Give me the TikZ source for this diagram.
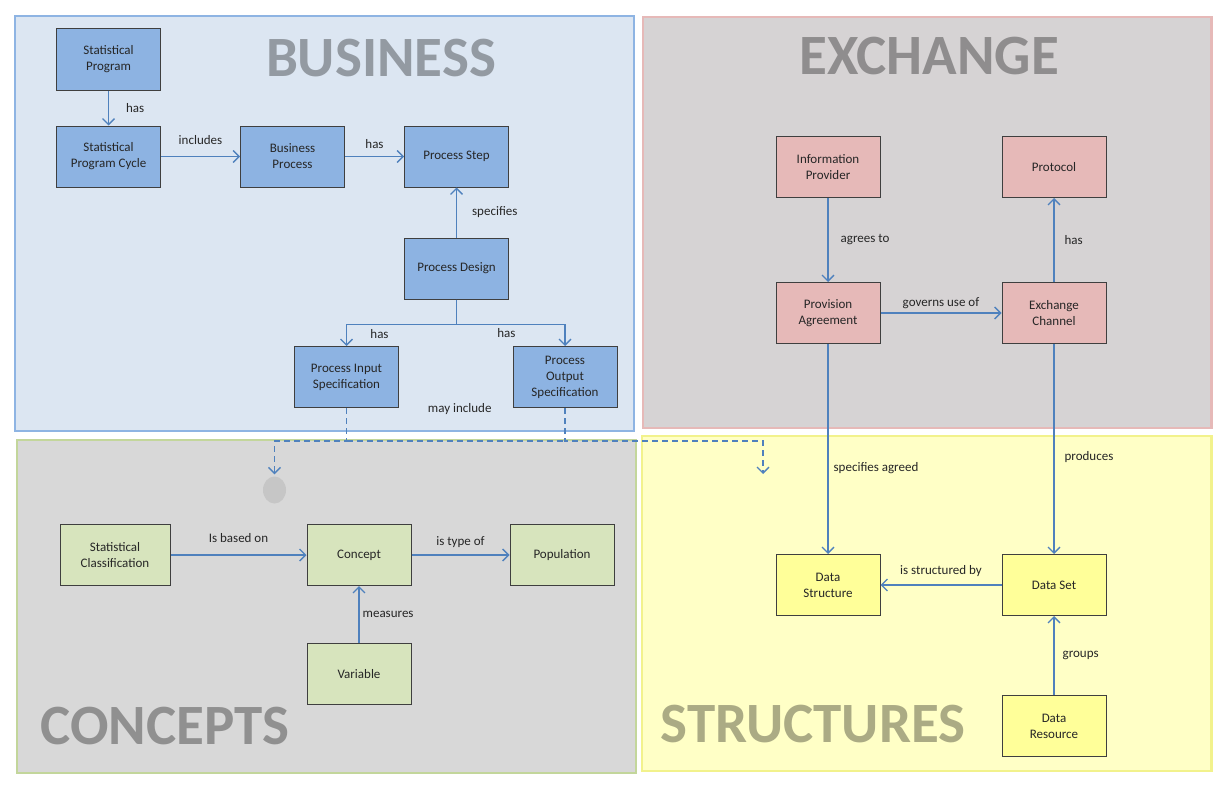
\documentclass[tikz,border=0pt]{standalone}
\usepackage{fontspec}
\setmainfont{Carlito}
\usepackage{tikz}
\usetikzlibrary{shapes,arrows.meta}
\usetikzlibrary{positioning}
\definecolor{clrBorders}{HTML}{3F3F3F}
\definecolor{clrText}{HTML}{262626}
\definecolor{clrArrow}{HTML}{4F81BD}
\definecolor{clrBusinessBg}{HTML}{DCE6F2}
\definecolor{clrBusinessLine}{HTML}{8EB4E3}
\definecolor{clrBusinessBox}{HTML}{8DB3E2}
\definecolor{clrExchangeBg}{HTML}{D6D3D4}
\definecolor{clrExchangeLine}{HTML}{E6B9B8}
\definecolor{clrExchangeBox}{HTML}{E6B9B8}
\definecolor{clrConceptsBg}{HTML}{D8D8D8}
\definecolor{clrConceptsLine}{HTML}{C3D69B}
\definecolor{clrConceptsBox}{HTML}{D7E4BD}
\definecolor{clrStructBg}{HTML}{FFFFC6}
\definecolor{clrStructLine}{HTML}{F2F28C}
\definecolor{clrStructBox}{HTML}{FFFF99}
\definecolor{clrDot}{HTML}{C6C6C6}
\tikzstyle{box_style0}=[draw=clrBorders, line width=1pt, minimum width=104pt, minimum height=61pt,
inner sep=2pt, align=center, text=clrText, font=\fontsize{13}{16}\selectfont]
\tikzstyle{business}=[box_style0, fill=clrBusinessBox]
\tikzstyle{exchange}=[box_style0, fill=clrExchangeBox]
\tikzstyle{concepts}=[box_style0, fill=clrConceptsBox]
\tikzstyle{structures}=[box_style0, fill=clrStructBox]
\tikzstyle{myarrow}=[->, >={Straight Barb[length=6pt,width=12pt]}, line width=1.3pt, draw=clrArrow]
\tikzstyle{mydashed}=[myarrow, dash pattern=on 6pt off 4pt]
\tikzstyle{lbl}=[inner sep=0pt, text=clrText, font=\fontsize{13}{16}\selectfont]
\tikzstyle{panel}=[line width=2.5pt]
\tikzstyle{paneltitle}=[inner sep=0pt, font=\fontsize{57}{60}\selectfont\bfseries, text=black, text opacity=0.33]

\begin{document}
\begin{tikzpicture}[x=1pt, y=-1pt]
		\useasboundingbox (0,0) rectangle (1214,800);

		% the four areas
		\draw[panel, draw=clrBusinessLine, fill=clrBusinessBg] (15,16) rectangle (634,431);
		\draw[panel, draw=clrExchangeLine, fill=clrExchangeBg] (643,17) rectangle (1211.5,428);
		\draw[panel, draw=clrConceptsLine, fill=clrConceptsBg] (17,440) rectangle (636,773);
		\draw[panel, draw=clrStructLine, fill=clrStructBg] (642,436) rectangle (1211.5,771);

		\node[paneltitle] (tBusiness) at (381,58) {BUSINESS};
		\node[paneltitle] (tExchange) at (929,56) {EXCHANGE};
		\node[paneltitle] (tConcepts) at (165,726) {CONCEPTS};
		\node[paneltitle] (tStructures) at (813,724) {STRUCTURES};

		% business
		\node[business] (SP) at (108.5,59.5) {Statistical\\Program};

		\node[business, below=35pt of SP] (SPC) {Statistical\\Program Cycle};
		\draw[myarrow] (SP) -- node[lbl, midway, right=17pt] {has} (SPC);

		\node[business, right=79pt of SPC] (BP) {Business\\Process};
		\draw[myarrow] (SPC) -- node[lbl, midway, above=11pt] {includes} (BP);

		\node[business, right=59pt of BP] (PS) {Process Step};
		\draw[myarrow] (BP) -- node[lbl, midway, above=7pt] {has} (PS);

		\node[business, below=50pt of PS] (PD) {Process Design};
		\draw[myarrow] (PD) -- node[lbl, midway, right=15pt] {specifies} (PS);

		\node[business] (PIS) at (346.5,377) {Process Input\\Specification};
		\draw[myarrow] (PD.south) -- ++(0,25) -| node[lbl, pos=0.35, below=4pt] {has} (PIS.north);

		\node[business] (POS) at (565,377) {Process\\Output\\Specification};
		\draw[myarrow] (PD.south) -- ++(0,25) -| node[lbl, pos=0.23, below=3pt] {has} (POS.north);

		% may include
		\coordinate (mayinc) at (0,441);
		\coordinate (structIn) at (763,474);
		\node[ellipse, fill=clrDot, minimum width=23pt, minimum height=27pt, inner sep=0pt] (dot) at (274.5,490) {};
		\draw[mydashed] (PIS.south) -- (PIS.south |- mayinc) -| ([yshift=2pt]dot.north);
		\draw[mydashed] (POS.south) -- (POS.south |- mayinc) -| (structIn);
		\draw[mydashed, -] (PIS.south |- mayinc) -- node[lbl, midway, above=26pt, xshift=4pt] {may include} (POS.south |- mayinc);

		% exchange
		\node[exchange] (IP) at (828,167) {Information\\Provider};

		\node[exchange, below=84pt of IP] (PA) {Provision\\Agreement};
		\draw[myarrow] (IP) -- node[lbl, midway, right=12pt] {agrees to} (PA);

		\node[exchange, right=121pt of PA] (EC) {Exchange\\Channel};
		\draw[myarrow] (PA) -- node[lbl, midway, above=4pt] {governs use of} (EC);

		\node[exchange, above=84pt of EC] (PR) {Protocol};
		\draw[myarrow] (EC) -- node[lbl, midway, right=10pt] {has} (PR);

		% concepts
		\node[concepts, minimum width=110pt] (SC) at (115,555) {Statistical\\Classification};

		\node[concepts, right=136pt of SC] (CO) {Concept};
		\draw[myarrow] (SC) -- node[lbl, midway, above=12pt] {Is based on} (CO);

		\node[concepts, right=98pt of CO] (PO) {Population};
		\draw[myarrow] (CO) -- node[lbl, midway, above=7pt] {is type of} (PO);

		\node[concepts, below=57pt of CO] (VA) {Variable};
		\draw[myarrow] (VA) -- node[lbl, midway, right=3pt] {measures} (CO);

		% structures
		\node[structures] (DSET) at (1054,585) {Data Set};
		\draw[myarrow] (EC) -- node[lbl, pos=0.54, right=10pt] {produces} (DSET);

		\node[structures, left=121pt of DSET] (DSTR) {Data\\Structure};
		\draw[myarrow] (DSET) -- node[lbl, midway, above=8pt] {is structured by} (DSTR);
		\draw[myarrow] (PA) -- node[lbl, pos=0.59, right=5pt] {specifies agreed} (DSTR);

		\node[structures, below=79pt of DSET] (DRES) {Data\\Resource};
		\draw[myarrow] (DRES) -- node[lbl, midway, right=8pt] {groups} (DSET);

	\end{tikzpicture}
\end{document}
